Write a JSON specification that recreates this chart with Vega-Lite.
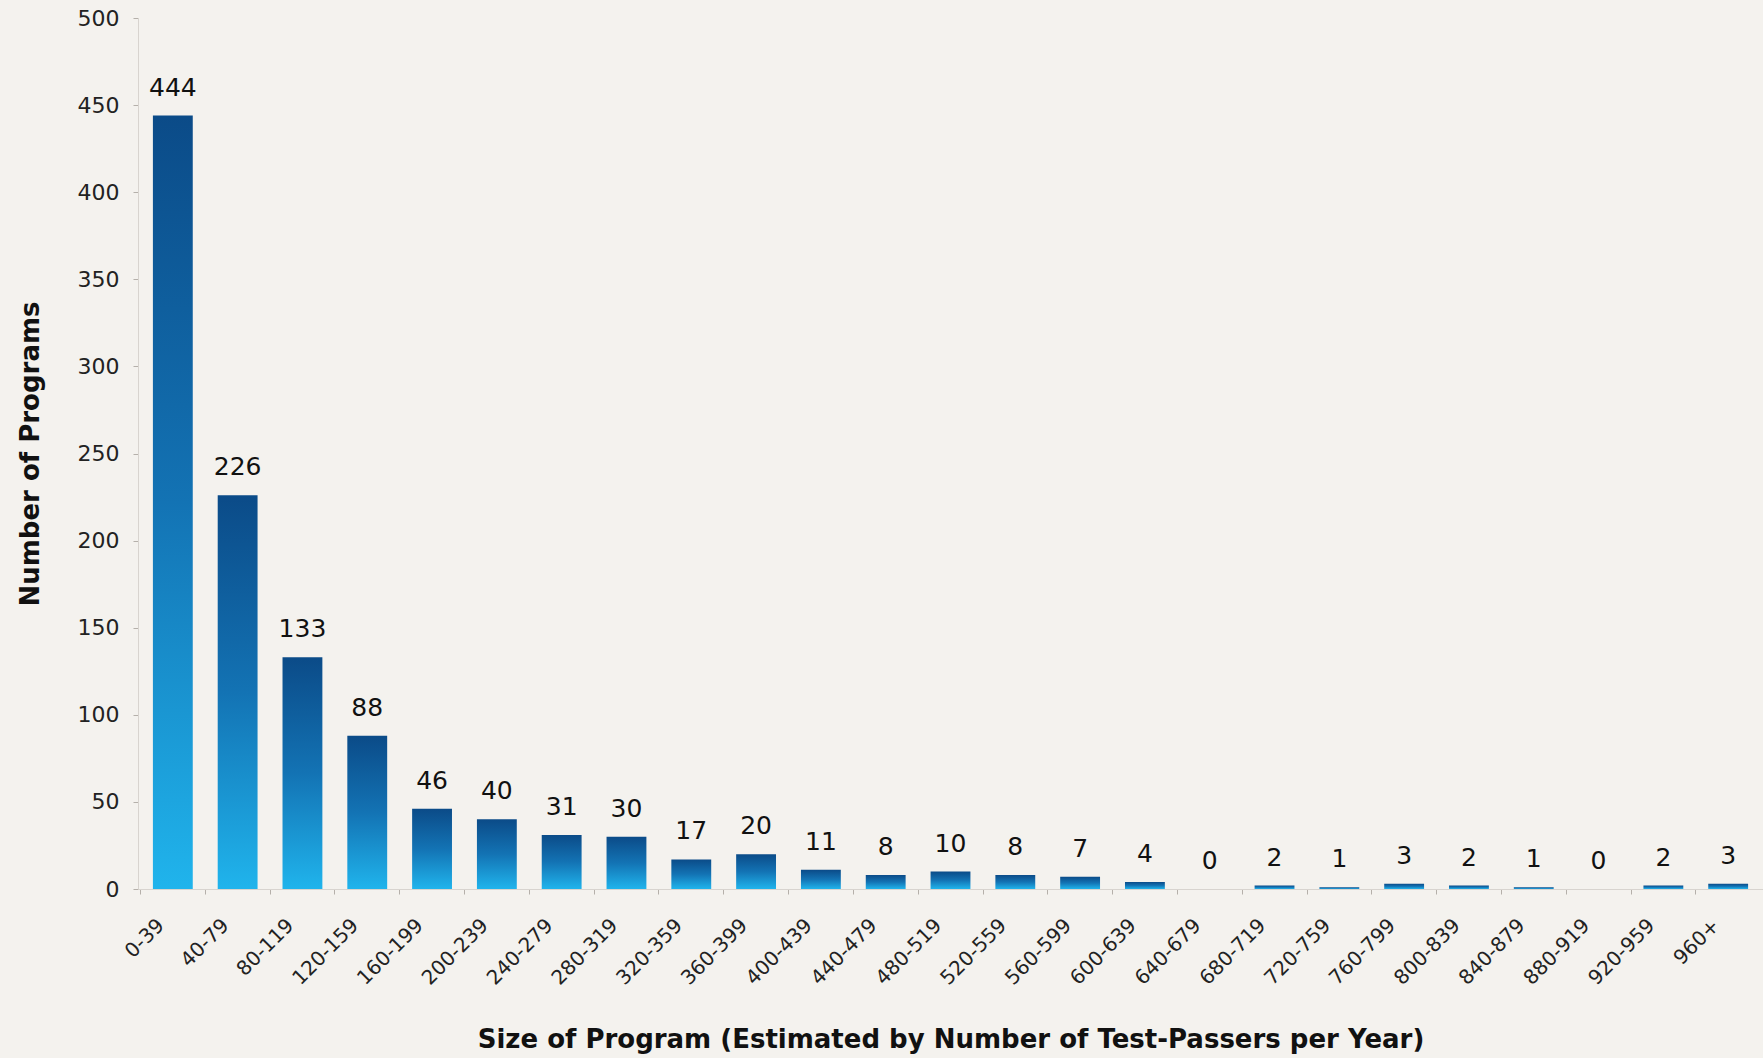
{
  "$schema": "https://vega.github.io/schema/vega-lite/v6.json",
  "autosize": {"type": "none"},
  "width": 1625,
  "height": 871,
  "padding": {"left": 138, "top": 18, "right": 0, "bottom": 169},
  "background": "#f4f2ee",
  "config": {
    "view": {"stroke": null},
    "font": "DejaVu Sans",
    "axis": {"labelFont": "DejaVu Sans", "titleFont": "DejaVu Sans", "labelColor": "#222222", "titleColor": "#111111", "domainColor": "#d8d4cf", "tickColor": "#b5b0aa", "grid": false}
  },
  "data": {
    "values": [
      {"size": "0-39", "count": 444},
      {"size": "40-79", "count": 226},
      {"size": "80-119", "count": 133},
      {"size": "120-159", "count": 88},
      {"size": "160-199", "count": 46},
      {"size": "200-239", "count": 40},
      {"size": "240-279", "count": 31},
      {"size": "280-319", "count": 30},
      {"size": "320-359", "count": 17},
      {"size": "360-399", "count": 20},
      {"size": "400-439", "count": 11},
      {"size": "440-479", "count": 8},
      {"size": "480-519", "count": 10},
      {"size": "520-559", "count": 8},
      {"size": "560-599", "count": 7},
      {"size": "600-639", "count": 4},
      {"size": "640-679", "count": 0},
      {"size": "680-719", "count": 2},
      {"size": "720-759", "count": 1},
      {"size": "760-799", "count": 3},
      {"size": "800-839", "count": 2},
      {"size": "840-879", "count": 1},
      {"size": "880-919", "count": 0},
      {"size": "920-959", "count": 2},
      {"size": "960+", "count": 3}
    ]
  },
  "encoding": {
    "x": {
      "field": "size", "type": "nominal", "sort": null,
      "scale": {"paddingInner": 0.385, "paddingOuter": 0.23},
      "axis": {"title": "Size of Program (Estimated by Number of Test-Passers per Year)", "labelAngle": -45, "labelFontSize": 20, "labelPadding": 21, "bandPosition": -0.31, "labelOffset": -19, "ticks": true, "tickSize": 5, "titleFontSize": 26, "titleFontWeight": "bold", "titlePadding": 38}
    },
    "y": {
      "field": "count", "type": "quantitative",
      "scale": {"domain": [0, 500]},
      "axis": {"title": "Number of Programs", "values": [0, 50, 100, 150, 200, 250, 300, 350, 400, 450, 500], "labelFontSize": 22, "labelPadding": 14, "tickSize": 5, "titleFontSize": 26, "titleFontWeight": "bold", "titlePadding": 34}
    }
  },
  "layer": [
    {
      "mark": {
        "type": "bar",
        "color": {
          "gradient": "linear", "x1": 0, "y1": 0, "x2": 0, "y2": 1,
          "stops": [
            {"offset": 0, "color": "#0b4b88"},
            {"offset": 0.5, "color": "#1373b4"},
            {"offset": 1, "color": "#20b4ec"}
          ]
        }
      }
    },
    {
      "mark": {"type": "text", "baseline": "bottom", "dy": -15, "fontSize": 25, "color": "#111111"},
      "encoding": {"text": {"field": "count", "type": "quantitative"}}
    }
  ]
}
